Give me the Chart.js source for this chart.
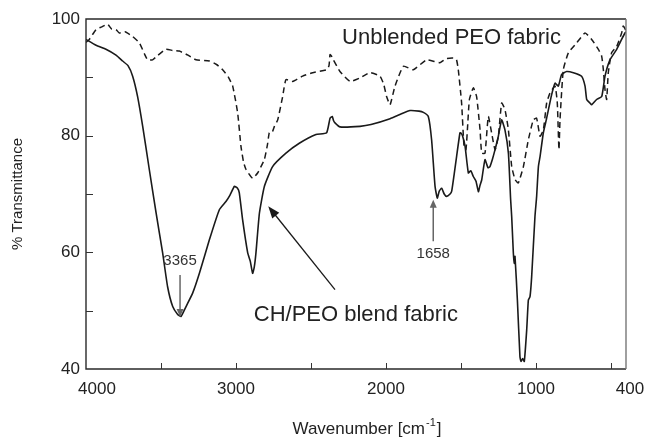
<!DOCTYPE html>
<html>
<head>
<meta charset="utf-8">
<script src="https://cdn.jsdelivr.net/npm/chart.js@4.4.1/dist/chart.umd.min.js"></script>
<style>
  html, body { margin: 0; padding: 0; background: #fff; }
  #wrap { width: 645px; height: 438px; position: relative; }
</style>
</head>
<body>
<div id="wrap"><canvas id="irChart"></canvas></div>
<script>
// CH/PEO blend fabric (solid line)
const blendWavenumber = [4000, 3933, 3867, 3800, 3756, 3720, 3689, 3656, 3622, 3578, 3533, 3489, 3456, 3422, 3390, 3367, 3350, 3333, 3289, 3244, 3178, 3111, 3067, 3040, 3011, 2990, 2978, 2956, 2922, 2905, 2889, 2878, 2867, 2844, 2811, 2756, 2667, 2578, 2467, 2396, 2373, 2358, 2350, 2340, 2307, 2173, 2100, 1973, 1900, 1840, 1780, 1751, 1718, 1696, 1673, 1658, 1645, 1629, 1612, 1596, 1573, 1562, 1545, 1529, 1507, 1502, 1490, 1473, 1451, 1435, 1418, 1400, 1384, 1373, 1362, 1340, 1320, 1307, 1290, 1273, 1251, 1229, 1207, 1184, 1169, 1162, 1151, 1144, 1140, 1124, 1107, 1100, 1089, 1078, 1062, 1051, 1040, 1029, 1007, 996, 984, 973, 951, 929, 896, 873, 851, 829, 796, 751, 696, 673, 662, 640, 629, 596, 562, 540, 507, 462, 429, 407, 400];
const blendTransmittance = [96.5, 95.5, 94.8, 93.8, 92.8, 92.0, 90.2, 86.7, 81.6, 74.2, 66.8, 59.9, 54.1, 50.7, 49.4, 49.0, 49.8, 50.7, 53.0, 56.4, 62.1, 67.3, 68.7, 69.8, 71.3, 71.0, 70.2, 65.6, 59.9, 58.5, 56.4, 57.5, 59.9, 66.7, 71.3, 74.7, 77.0, 78.7, 80.2, 80.5, 83.0, 83.3, 82.6, 82.2, 81.5, 81.6, 81.9, 82.9, 83.7, 84.3, 84.2, 84.0, 83.3, 79.3, 71.3, 69.3, 70.5, 71.0, 70.0, 69.6, 70.0, 70.5, 73.5, 76.5, 80.5, 80.5, 80.0, 78.2, 73.6, 74.0, 73.0, 72.2, 70.4, 71.5, 72.4, 75.9, 74.5, 74.7, 76.0, 77.6, 79.9, 82.7, 81.0, 77.0, 69.0, 66.1, 59.9, 58.1, 59.3, 51.8, 42.1, 41.3, 41.8, 41.3, 46.7, 51.8, 52.4, 55.8, 66.1, 69.5, 74.7, 76.4, 80.5, 83.0, 87.0, 89.0, 88.5, 90.5, 91.0, 90.8, 90.2, 88.5, 86.2, 85.6, 85.3, 86.2, 86.7, 90.2, 93.0, 94.8, 96.5, 97.6, 97.8];

// Unblended PEO fabric (dashed line)
const peoWavenumber = [4000, 3978, 3933, 3900, 3856, 3830, 3800, 3778, 3740, 3700, 3689, 3644, 3610, 3589, 3556, 3520, 3467, 3420, 3378, 3320, 3267, 3178, 3130, 3089, 3050, 3022, 2989, 2967, 2950, 2933, 2889, 2856, 2811, 2790, 2778, 2760, 2744, 2722, 2689, 2667, 2622, 2556, 2489, 2396, 2380, 2373, 2360, 2351, 2307, 2240, 2173, 2107, 2040, 2015, 1996, 1973, 1940, 1884, 1818, 1729, 1640, 1600, 1551, 1530, 1518, 1496, 1480, 1467, 1455, 1444, 1418, 1396, 1373, 1362, 1340, 1318, 1296, 1273, 1251, 1229, 1207, 1184, 1162, 1140, 1118, 1084, 1051, 1018, 996, 973, 951, 929, 907, 873, 858, 847, 840, 818, 784, 729, 673, 629, 584, 562, 551, 540, 529, 518, 496, 462, 429, 418, 400];
const peoTransmittance = [96.0, 96.5, 98.2, 98.6, 99.1, 98.3, 98.2, 97.6, 97.8, 97.2, 97.0, 95.9, 94.0, 93.0, 93.0, 93.8, 94.8, 94.6, 94.5, 93.8, 93.0, 92.8, 92.2, 91.3, 90.0, 88.5, 83.9, 78.2, 75.5, 74.2, 72.7, 73.6, 75.9, 78.5, 80.5, 80.5, 81.6, 82.7, 86.7, 89.6, 89.3, 90.2, 90.8, 91.3, 92.0, 93.9, 93.5, 93.0, 91.0, 89.3, 89.9, 90.8, 90.2, 88.8, 86.7, 85.3, 88.5, 91.9, 91.3, 93.0, 92.5, 93.2, 93.3, 93.0, 91.3, 85.6, 78.2, 77.6, 82.0, 86.2, 88.2, 86.7, 81.0, 77.0, 77.0, 83.3, 80.5, 77.6, 79.9, 85.6, 84.5, 81.0, 74.7, 72.5, 71.9, 74.7, 79.3, 82.7, 83.0, 79.9, 81.0, 85.6, 87.3, 88.5, 85.6, 77.6, 82.7, 91.3, 94.2, 95.9, 97.6, 96.5, 94.8, 93.6, 91.3, 87.9, 86.2, 90.8, 94.2, 95.3, 97.6, 98.8, 98.0];

// axes
const xTickMarks = [3500, 3000, 2500, 2000, 1500, 1000, 500];
const xTickLabels = [4000, 3000, 2000, 1000, 400];
const yTickMarks = [50, 60, 70, 80, 90];

const FONT = '"Liberation Sans", Arial, Helvetica, sans-serif';

function toPoints(xs, ys) {
    return xs.map((x, i) => ({ x: x, y: ys[i] }));
}

function drawArrow(ctx, x1, y1, x2, y2, color, width, headLen, headHalf) {
    const a = Math.atan2(y2 - y1, x2 - x1);
    const c = Math.cos(a), s = Math.sin(a);
    ctx.strokeStyle = color;
    ctx.fillStyle = color;
    ctx.lineWidth = width;
    ctx.beginPath();
    ctx.moveTo(x1, y1);
    ctx.lineTo(x2 - c * headLen * 0.8, y2 - s * headLen * 0.8);
    ctx.stroke();
    ctx.beginPath();
    ctx.moveTo(x2, y2);
    ctx.lineTo(x2 - headLen * c + headHalf * s, y2 - headLen * s - headHalf * c);
    ctx.lineTo(x2 - headLen * c - headHalf * s, y2 - headLen * s + headHalf * c);
    ctx.closePath();
    ctx.fill();
}

const spectrumDecor = {
    id: 'spectrumDecor',
    afterDatasetsDraw(chart) {
        const { ctx, scales: { x, y } } = chart;
        ctx.save();

        // curve labels
        ctx.fillStyle = '#222';
        ctx.font = '22px ' + FONT;
        ctx.textAlign = 'center';
        ctx.textBaseline = 'middle';
        ctx.fillText('Unblended PEO fabric', x.getPixelForValue(1563), y.getPixelForValue(96.7));
        ctx.fillText('CH/PEO blend fabric', x.getPixelForValue(2201), y.getPixelForValue(49.3));

        // pointer to the blend curve
        drawArrow(ctx, x.getPixelForValue(2340), y.getPixelForValue(53.6),
                  x.getPixelForValue(2785), y.getPixelForValue(67.9), '#1a1a1a', 1.3, 12, 4.5);

        // peak markers
        ctx.font = '15px ' + FONT;
        ctx.fillStyle = '#333';
        ctx.fillText('3365', x.getPixelForValue(3373), y.getPixelForValue(58.6));
        drawArrow(ctx, x.getPixelForValue(3373), y.getPixelForValue(56.1),
                  x.getPixelForValue(3373), y.getPixelForValue(48.9), '#666', 1.5, 8, 3.5);

        ctx.fillStyle = '#333';
        ctx.fillText('1658', x.getPixelForValue(1685), y.getPixelForValue(59.8));
        drawArrow(ctx, x.getPixelForValue(1685), y.getPixelForValue(61.9),
                  x.getPixelForValue(1685), y.getPixelForValue(69.0), '#666', 1.5, 8, 3.5);

        ctx.restore();
    },
    afterDraw(chart) {
        const { ctx, chartArea: { left, top, right, bottom }, scales: { x, y } } = chart;
        ctx.save();

        // frame
        ctx.lineWidth = 1.4;
        ctx.strokeStyle = '#2a2a2a';
        ctx.beginPath();
        ctx.moveTo(right, top);
        ctx.lineTo(left, top);
        ctx.lineTo(left, bottom);
        ctx.lineTo(right, bottom);
        ctx.stroke();
        ctx.strokeStyle = '#777';
        ctx.beginPath();
        ctx.moveTo(right, top);
        ctx.lineTo(right, bottom);
        ctx.stroke();

        // inward tick marks
        ctx.strokeStyle = '#333';
        ctx.lineWidth = 1;
        ctx.beginPath();
        xTickMarks.forEach(v => {
            const px = Math.round(x.getPixelForValue(v)) + 0.5;
            ctx.moveTo(px, bottom);
            ctx.lineTo(px, bottom - 6);
        });
        yTickMarks.forEach(v => {
            const py = Math.round(y.getPixelForValue(v)) + 0.5;
            ctx.moveTo(left, py);
            ctx.lineTo(left + 7, py);
        });
        ctx.stroke();

        // x tick labels
        ctx.fillStyle = '#222';
        ctx.font = '17px ' + FONT;
        ctx.textAlign = 'center';
        ctx.textBaseline = 'top';
        xTickLabels.forEach(v => {
            let px = x.getPixelForValue(v);
            if (v === x.max) px += 11;
            if (v === x.min) px += 4;
            ctx.fillText(String(v), px, bottom + 12);
        });

        // x title with superscript
        const base = 'Wavenumber [cm';
        const sup = '-1';
        const tail = ']';
        ctx.textBaseline = 'alphabetic';
        ctx.textAlign = 'left';
        ctx.font = '17px ' + FONT;
        const wBase = ctx.measureText(base).width;
        const wTail = ctx.measureText(tail).width;
        ctx.font = '11px ' + FONT;
        const wSup = ctx.measureText(sup).width;
        const total = wBase + wSup + 2 + wTail;
        const tx = (left + right) / 2 + 11 - total / 2;
        const ty = 434;
        ctx.font = '17px ' + FONT;
        ctx.fillText(base, tx, ty);
        ctx.font = '11px ' + FONT;
        ctx.fillText(sup, tx + wBase + 1, ty - 8);
        ctx.font = '17px ' + FONT;
        ctx.fillText(tail, tx + wBase + wSup + 2, ty);

        ctx.restore();
    }
};

new Chart(document.getElementById('irChart'), {
    type: 'line',
    plugins: [spectrumDecor],
    data: {
        datasets: [
            {
                label: 'CH/PEO blend fabric',
                data: toPoints(blendWavenumber, blendTransmittance),
                borderColor: '#1a1a1a',
                borderWidth: 1.6,
                pointRadius: 0,
                tension: 0.15,
                fill: false
            },
            {
                label: 'Unblended PEO fabric',
                data: toPoints(peoWavenumber, peoTransmittance),
                borderColor: '#1a1a1a',
                borderWidth: 1.5,
                borderDash: [6, 4],
                pointRadius: 0,
                tension: 0.15,
                fill: false
            }
        ]
    },
    options: {
        responsive: true,
        maintainAspectRatio: false,
        animation: false,
        layout: {
            padding: { top: 19, right: 19, bottom: 69, left: 0 }
        },
        plugins: {
            legend: { display: false },
            tooltip: { enabled: false }
        },
        scales: {
            x: {
                type: 'linear',
                reverse: true,
                min: 400,
                max: 4000,
                display: false
            },
            y: {
                type: 'linear',
                min: 40,
                max: 100,
                grid: { display: false, drawTicks: false },
                border: { display: false },
                ticks: {
                    stepSize: 20,
                    padding: 6,
                    color: '#222',
                    font: { family: FONT, size: 17 }
                },
                title: {
                    display: true,
                    text: '% Transmittance',
                    color: '#222',
                    font: { family: FONT, size: 15 },
                    padding: { top: 9, bottom: 0 }
                },
                afterFit(scale) {
                    scale.width = 86;
                }
            }
        }
    }
});
</script>
</body>
</html>
